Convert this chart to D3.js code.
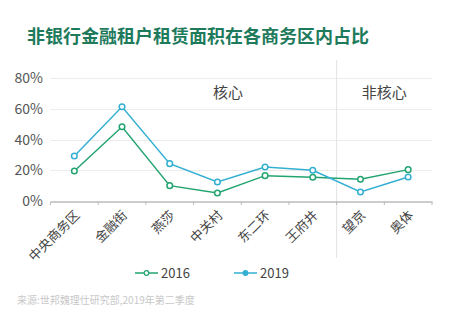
<!DOCTYPE html>
<html><head><meta charset="utf-8">
<script src="https://cdn.jsdelivr.net/npm/d3@7"></script>
<style>
body{margin:0;background:#fff;}
text{font-family:"Noto Sans CJK SC","Noto Sans",sans-serif;}
</style></head>
<body><svg id="c" width="450" height="336"></svg>
<script>
const categories = ["中央商务区","金融街","燕莎","中关村","东二环","王府井","望京","奥体"];
const values2016 = [19.5, 48.3, 10, 5.2, 16.5, 15.4, 14.1, 20.4];
const values2019 = [29.3, 61.3, 24.3, 12.4, 22.1, 20, 5.9, 15.6];
const yTicks = [0, 20, 40, 60, 80];
const seriesNames = ["2016", "2019"];
const colors = ["#22a470", "#33afd2"];
const groups = [{name:"核心", at:"中关村", shift:0.22}, {name:"非核心", at:"望京", shift:0.5}];

const svg = d3.select("#c");
const x = d3.scaleBand().domain(categories).range([50.5, 432]);
const y = d3.scaleLinear().domain([0, 80]).range([201, 78]);

svg.append("text").attr("x", 27).attr("y", 43)
  .attr("font-size", 18).attr("font-weight", "bold").attr("fill", "#1d7a5b")
  .text("非银行金融租户租赁面积在各商务区内占比");

// gridlines
svg.append("g").selectAll("line").data(yTicks.filter(d => d > 0)).join("line")
  .attr("x1", 50.5).attr("x2", 432)
  .attr("y1", d => Math.round(y(d)) + 0.5).attr("y2", d => Math.round(y(d)) + 0.5)
  .attr("stroke", "#ececec").attr("stroke-width", 1);

// y labels
svg.append("g").selectAll("text").data(yTicks).join("text")
  .attr("x", 43).attr("y", d => y(d) + 5).attr("text-anchor", "end")
  .attr("font-size", 14).attr("fill", "#555")
  .text(d => d + "%");

// divider
const divX = x(categories[6]);
svg.append("line").attr("x1", divX).attr("x2", divX).attr("y1", 60).attr("y2", 258)
  .attr("stroke", "#e3e3e3").attr("stroke-width", 1);

// x axis
const xAxis = d3.axisBottom(x).tickSize(0).tickFormat("");
const ax = svg.append("g").attr("transform", "translate(0,201.5)").call(xAxis);
ax.select(".domain").attr("stroke", "#bbb").attr("stroke-width", 1.5);
const bounds = categories.map(c => x(c)).concat([x.range()[1]]);
svg.append("g").selectAll("line").data(bounds).join("line")
  .attr("x1", d => d).attr("x2", d => d).attr("y1", 201.5).attr("y2", 205)
  .attr("stroke", "#bbb");

svg.append("g").selectAll("text").data(categories).join("text")
  .attr("transform", d => `translate(${x(d) + x.bandwidth()/2 + 6},${216}) rotate(-45)`)
  .attr("text-anchor", "end").attr("font-size", 13).attr("fill", "#444")
  .text(d => d);

// group labels
svg.append("g").selectAll("text").data(groups).join("text")
  .attr("x", d => x(d.at) + x.bandwidth() * (0.5 + d.shift))
  .attr("y", 98).attr("text-anchor", "middle").attr("font-size", 15).attr("fill", "#444")
  .text(d => d.name);

// lines
const series = [values2016, values2019];
const line = d3.line().x((d, i) => x(categories[i]) + x.bandwidth()/2).y(d => y(d));
series.forEach((vals, si) => {
  svg.append("path").datum(vals).attr("d", line).attr("fill", "none")
    .attr("stroke", colors[si]).attr("stroke-width", 1.5);
  svg.append("g").selectAll("circle").data(vals).join("circle")
    .attr("cx", (d, i) => x(categories[i]) + x.bandwidth()/2).attr("cy", d => y(d))
    .attr("r", 2.8).attr("fill", "#fff").attr("stroke", colors[si]).attr("stroke-width", 1.5);
});

// legend
const legX = [135, 234];
seriesNames.forEach((n, i) => {
  const g = svg.append("g").attr("transform", `translate(${legX[i]},273)`);
  g.append("line").attr("x1", 0).attr("x2", 23).attr("stroke", colors[i]).attr("stroke-width", 1.5);
  g.append("circle").attr("cx", 11.5).attr("r", 2.3)
    .attr("fill", i === 0 ? "#fff" : colors[i]).attr("stroke", colors[i]).attr("stroke-width", 1.2);
  g.append("text").attr("x", 26).attr("y", 5).attr("font-size", 13).attr("fill", "#444").text(n);
});

svg.append("text").attr("x", 17).attr("y", 304).attr("font-size", 10).attr("fill", "#c8c8c8")
  .text("来源:世邦魏理仕研究部,2019年第二季度");
</script></body></html>
